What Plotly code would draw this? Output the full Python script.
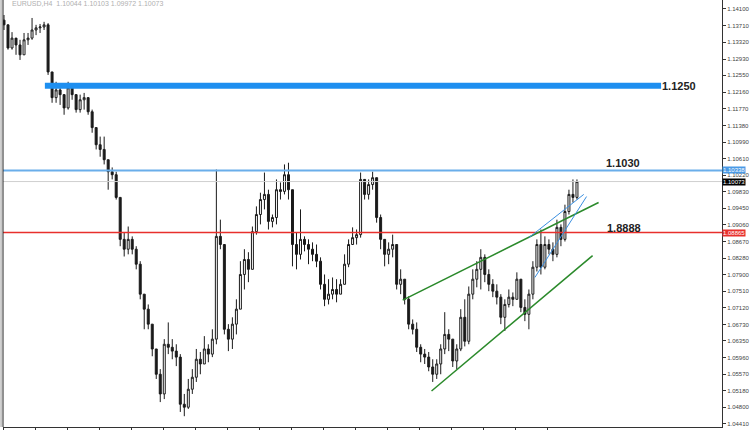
import plotly.graph_objects as go

# ---------------- data ----------------
bar_open = [
    1.1384, 1.1373, 1.1319, 1.1342, 1.1326, 1.1303, 1.1338, 1.1342, 1.1361, 1.1366,
    1.1368, 1.1373, 1.1263, 1.1203, 1.1221, 1.1210, 1.1179, 1.1226, 1.1210, 1.1175,
    1.1198, 1.1203, 1.1170, 1.1133, 1.1093, 1.1082, 1.1058, 1.1030, 1.1023, 1.0970,
    1.0872, 1.0849, 1.0872, 1.0849, 1.0814, 1.0744, 1.0709, 1.0674, 1.0616, 1.0557,
    1.0511, 1.0627, 1.0620, 1.0611, 1.0597, 1.0487, 1.0480, 1.0522, 1.0550, 1.0592,
    1.0581, 1.0616, 1.0604, 1.0639, 1.0879, 1.0860, 1.0662, 1.0639, 1.0674, 1.0709,
    1.0790, 1.0825, 1.0802, 1.0890, 1.0930, 1.0965, 1.0977, 1.0914, 1.0923, 1.0988,
    1.0984, 1.1023, 1.0988, 1.0860, 1.0837, 1.0872, 1.0860, 1.0849, 1.0837, 1.0821,
    1.0767, 1.0732, 1.0744, 1.0755, 1.0744, 1.0767, 1.0814, 1.0860, 1.0876, 1.0883,
    1.1012, 1.0977, 1.1000, 1.1016, 1.0923, 1.0872, 1.0837, 1.0849, 1.0860, 1.0767,
    1.0779, 1.0732, 1.0674, 1.0662, 1.0620, 1.0604, 1.0597, 1.0574, 1.0557, 1.0581,
    1.0616, 1.0650, 1.0639, 1.0588, 1.0616, 1.0690, 1.0634, 1.0744, 1.0779, 1.0802,
    1.0830, 1.0790, 1.0767, 1.0751, 1.0737, 1.0690, 1.0720, 1.0737, 1.0732, 1.0779,
    1.0713, 1.0697, 1.0744, 1.0807, 1.0860, 1.0807, 1.0860, 1.0849, 1.0837, 1.0900,
    1.0872, 1.0937, 1.0977, 1.0970,
]
bar_high = [
    1.1396, 1.1361, 1.1356, 1.1342, 1.1338, 1.1354, 1.1354, 1.1389, 1.1373, 1.1375,
    1.1380, 1.1377, 1.1263, 1.1240, 1.1233, 1.1205, 1.1240, 1.1235, 1.1205, 1.1210,
    1.1214, 1.1198, 1.1175, 1.1133, 1.1112, 1.1112, 1.1058, 1.1040, 1.1030, 1.0970,
    1.0888, 1.0902, 1.0879, 1.0856, 1.0821, 1.0744, 1.0720, 1.0674, 1.0616, 1.0569,
    1.0639, 1.0678, 1.0639, 1.0627, 1.0604, 1.0511, 1.0546, 1.0569, 1.0616, 1.0609,
    1.0646, 1.0627, 1.0662, 1.1035, 1.0918, 1.0860, 1.0674, 1.0690, 1.0732, 1.0821,
    1.0849, 1.0842, 1.0902, 1.0949, 1.0981, 1.1028, 1.0988, 1.0930, 1.1012, 1.1005,
    1.1047, 1.1051, 1.0988, 1.0888, 1.0942, 1.0879, 1.0872, 1.0865, 1.0860, 1.0830,
    1.0790, 1.0779, 1.0783, 1.0779, 1.0779, 1.0837, 1.0872, 1.0900, 1.0895, 1.1028,
    1.1005, 1.1012, 1.1030, 1.1016, 1.0930, 1.0872, 1.0865, 1.0883, 1.0860, 1.0802,
    1.0779, 1.0739, 1.0685, 1.0678, 1.0627, 1.0616, 1.0609, 1.0592, 1.0592, 1.0627,
    1.0702, 1.0662, 1.0639, 1.0627, 1.0709, 1.0732, 1.0762, 1.0802, 1.0821, 1.0849,
    1.0837, 1.0802, 1.0779, 1.0767, 1.0744, 1.0732, 1.0755, 1.0748, 1.0795, 1.0779,
    1.0732, 1.0755, 1.0821, 1.0872, 1.0895, 1.0879, 1.0872, 1.0865, 1.0918, 1.0907,
    1.0953, 1.0988, 1.1012, 1.1012,
]
bar_low = [
    1.1361, 1.1315, 1.1315, 1.1303, 1.1291, 1.1303, 1.1326, 1.1338, 1.1349, 1.1354,
    1.1361, 1.1256, 1.1191, 1.1191, 1.1186, 1.1163, 1.1175, 1.1198, 1.1168, 1.1168,
    1.1175, 1.1163, 1.1121, 1.1082, 1.1065, 1.1047, 1.0988, 1.1012, 1.0965, 1.0856,
    1.0832, 1.0837, 1.0837, 1.0802, 1.0732, 1.0662, 1.0662, 1.0599, 1.0546, 1.0492,
    1.0499, 1.0604, 1.0592, 1.0576, 1.0469, 1.0459, 1.0476, 1.0511, 1.0539, 1.0557,
    1.0581, 1.0585, 1.0597, 1.0627, 1.0849, 1.0650, 1.0611, 1.0616, 1.0650, 1.0709,
    1.0755, 1.0772, 1.0802, 1.0883, 1.0907, 1.0942, 1.0895, 1.0900, 1.0907, 1.0965,
    1.0977, 1.0965, 1.0809, 1.0802, 1.0825, 1.0844, 1.0814, 1.0821, 1.0807, 1.0755,
    1.0716, 1.0720, 1.0732, 1.0725, 1.0744, 1.0767, 1.0807, 1.0860, 1.0860, 1.0876,
    1.0965, 1.0965, 1.0988, 1.0911, 1.0849, 1.0809, 1.0814, 1.0830, 1.0755, 1.0744,
    1.0720, 1.0662, 1.0650, 1.0609, 1.0585, 1.0581, 1.0564, 1.0539, 1.0546, 1.0557,
    1.0604, 1.0611, 1.0574, 1.0569, 1.0611, 1.0622, 1.0627, 1.0732, 1.0760, 1.0755,
    1.0772, 1.0751, 1.0737, 1.0720, 1.0674, 1.0658, 1.0713, 1.0716, 1.0732, 1.0702,
    1.0681, 1.0662, 1.0732, 1.0797, 1.0790, 1.0802, 1.0837, 1.0821, 1.0830, 1.0856,
    1.0867, 1.0930, 1.0958, 1.0965,
]
bar_close = [
    1.1373, 1.1319, 1.1342, 1.1326, 1.1303, 1.1338, 1.1342, 1.1361, 1.1366, 1.1368,
    1.1373, 1.1263, 1.1203, 1.1221, 1.1210, 1.1179, 1.1226, 1.1210, 1.1175, 1.1198,
    1.1203, 1.1170, 1.1133, 1.1093, 1.1082, 1.1058, 1.1030, 1.1023, 1.0970, 1.0872,
    1.0849, 1.0872, 1.0849, 1.0814, 1.0744, 1.0709, 1.0674, 1.0616, 1.0557, 1.0511,
    1.0627, 1.0620, 1.0611, 1.0597, 1.0487, 1.0480, 1.0522, 1.0550, 1.0592, 1.0581,
    1.0616, 1.0604, 1.0639, 1.0879, 1.0860, 1.0662, 1.0639, 1.0674, 1.0709, 1.0790,
    1.0825, 1.0802, 1.0890, 1.0930, 1.0965, 1.0977, 1.0914, 1.0923, 1.0988, 1.0984,
    1.1023, 1.0988, 1.0860, 1.0837, 1.0872, 1.0860, 1.0849, 1.0837, 1.0821, 1.0767,
    1.0732, 1.0744, 1.0755, 1.0744, 1.0767, 1.0814, 1.0860, 1.0876, 1.0883, 1.1012,
    1.0977, 1.1000, 1.1016, 1.0923, 1.0872, 1.0837, 1.0849, 1.0860, 1.0767, 1.0779,
    1.0732, 1.0674, 1.0662, 1.0620, 1.0604, 1.0597, 1.0574, 1.0557, 1.0581, 1.0616,
    1.0650, 1.0639, 1.0588, 1.0616, 1.0690, 1.0634, 1.0744, 1.0779, 1.0802, 1.0830,
    1.0790, 1.0767, 1.0751, 1.0737, 1.0690, 1.0720, 1.0737, 1.0732, 1.0779, 1.0713,
    1.0697, 1.0744, 1.0807, 1.0860, 1.0807, 1.0860, 1.0849, 1.0837, 1.0900, 1.0872,
    1.0937, 1.0977, 1.0970, 1.1007,
]
bar_index = list(range(len(bar_close)))

price_ticks = [1.14100, 1.13710, 1.13320, 1.12930, 1.12550, 1.12160, 1.11770,
               1.11380, 1.10990, 1.10610, 1.10220, 1.09830, 1.09450, 1.09060,
               1.08670, 1.08280, 1.07900, 1.07510, 1.07120, 1.06730, 1.06350,
               1.05960, 1.05570, 1.05180, 1.04800, 1.04410]
price_tick_text = ["%.5f" % v for v in price_ticks]
time_ticks = [-0.25 + 8 * k for k in range(18)]

# horizontal levels
level_thick_price, level_thick_label, level_thick_span = 1.1231, "1.1250", (10.2, 164.0)
level_blue_price, level_blue_label, level_blue_box = 1.1033, "1.1030", "1.10338"
level_bid_price, level_bid_box = 1.1007, "1.10073"
level_red_price, level_red_label, level_red_box = 1.0888, "1.8888", "1.08865"

# trend lines (bar index, price)
green_upper = ([99.5, 148.4], [1.0730, 1.0958])
green_lower = ([106.7, 146.9], [1.0518, 1.0834])
blue_upper = ([131.0, 144.7], [1.0876, 1.0977])
blue_lower = ([132.5, 145.4], [1.0783, 1.0972])

title_text = "EURUSD,H4  1.10044 1.10103 1.09972 1.10073"

# ---------------- figure ----------------
fig = go.Figure()
fig.add_trace(go.Candlestick(
    x=bar_index, open=bar_open, high=bar_high, low=bar_low, close=bar_close,
    increasing=dict(line=dict(color="#1a1a1a", width=1), fillcolor="#ffffff"),
    decreasing=dict(line=dict(color="#1a1a1a", width=1), fillcolor="#1a1a1a"),
    whiskerwidth=0, showlegend=False, hoverinfo="skip",
))

shapes = []
shapes.append(dict(type="line", xref="x", yref="y",
                   x0=level_thick_span[0], x1=level_thick_span[1],
                   y0=level_thick_price, y1=level_thick_price,
                   line=dict(color="#1e8ff0", width=6)))
shapes.append(dict(type="line", xref="paper", yref="y", x0=0, x1=1,
                   y0=level_blue_price, y1=level_blue_price,
                   line=dict(color="#6aaeea", width=2)))
shapes.append(dict(type="line", xref="paper", yref="y", x0=0, x1=1,
                   y0=level_bid_price, y1=level_bid_price,
                   line=dict(color="#cfcfcf", width=1)))
shapes.append(dict(type="line", xref="paper", yref="y", x0=0, x1=1,
                   y0=level_red_price, y1=level_red_price,
                   line=dict(color="#e8302c", width=1.5)))
for (xs, ys), col, w in [(green_upper, "#2b8a2b", 1.5), (green_lower, "#2b8a2b", 1.5),
                         (blue_upper, "#3a8fe0", 1), (blue_lower, "#3a8fe0", 1)]:
    shapes.append(dict(type="line", xref="x", yref="y", x0=xs[0], x1=xs[1],
                       y0=ys[0], y1=ys[1], line=dict(color=col, width=w)))
shapes.append(dict(type="line", xref="paper", yref="paper", x0=0, x1=0, y0=0, y1=1,
                   line=dict(color="#222", width=1)))
shapes.append(dict(type="line", xref="paper", yref="paper", x0=-0.0027, x1=-0.0027, y0=0, y1=1,
                   line=dict(color="#999", width=1)))

annotations = [
    dict(x=168.5, y=level_thick_price, xref="x", yref="y", text="<b>%s</b>" % level_thick_label,
         showarrow=False, font=dict(family="Arial", size=11, color="#222")),
    dict(x=154.6, y=1.1051, xref="x", yref="y", text="<b>%s</b>" % level_blue_label,
         showarrow=False, font=dict(family="Arial", size=11, color="#222")),
    dict(x=154.8, y=1.0898, xref="x", yref="y", text="<b>%s</b>" % level_red_label,
         showarrow=False, font=dict(family="Arial", size=11, color="#222")),
    dict(x=0.01, y=1.004, xref="paper", yref="paper", xanchor="left", yanchor="top",
         text=title_text, showarrow=False, font=dict(family="Arial", size=7, color="#b0b0b0")),
]
for price, txt, bg in [(level_blue_price, level_blue_box, "#4a9ae6"),
                       (level_bid_price, level_bid_box, "#000000"),
                       (level_red_price, level_red_box, "#e8302c")]:
    annotations.append(dict(x=1.0, y=price, xref="paper", yref="y", xanchor="left",
                            text=txt, showarrow=False, bgcolor=bg, borderpad=0,
                            font=dict(family="Arial", size=6, color="#ffffff")))

fig.update_layout(
    width=750, height=430, autosize=False,
    margin=dict(l=3, r=24, t=0, b=2),
    paper_bgcolor="#ffffff", plot_bgcolor="#ffffff",
    shapes=shapes, annotations=annotations,
    xaxis=dict(range=[-0.25, 179.2], showgrid=False, zeroline=False,
               rangeslider=dict(visible=False), showticklabels=False,
               tickmode="array", tickvals=time_ticks, ticks="outside", ticklen=3,
               tickcolor="#333", showline=True, linecolor="#333", linewidth=1),
    yaxis=dict(side="right", range=[1.04338, 1.1431], showgrid=False, zeroline=False,
               tickmode="array", tickvals=price_ticks, ticktext=price_tick_text,
               ticks="outside", ticklen=3, tickcolor="#333",
               tickfont=dict(family="Arial", size=6, color="#444"),
               showline=True, linecolor="#333", linewidth=1),
)

fig.write_html("out.html", config={"displayModeBar": False},
               post_script="document.body.style.margin='0';document.body.style.overflow='hidden';")
